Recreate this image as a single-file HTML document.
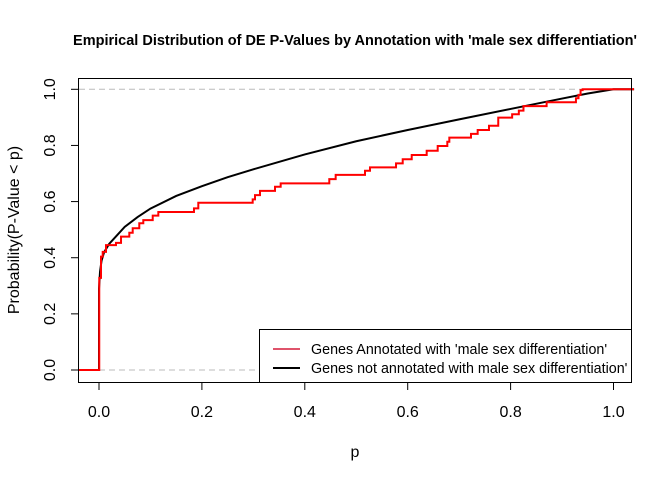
<!DOCTYPE html>
<html><head><meta charset="utf-8"><style>
body{margin:0;background:#fff;}
svg text{font-family:"Liberation Sans",Arial,sans-serif;}
</style></head><body>
<svg id="chart" width="672" height="480" viewBox="0 0 672 480" xmlns="http://www.w3.org/2000/svg">
<rect width="672" height="480" fill="#fff"/>
<text x="355" y="45" font-size="14.5" font-weight="bold" text-anchor="middle">Empirical Distribution of DE P-Values by Annotation with 'male sex differentiation'</text>
<g id="grid"></g>
<g id="series"></g>
<rect x="78.5" y="78.5" width="553" height="304" fill="none" stroke="#000" stroke-width="1"/>
<g id="axes"></g>
<text x="355" y="457" font-size="16" text-anchor="middle">p</text>
<text transform="translate(19,230) rotate(-90)" font-size="16" text-anchor="middle">Probability(P-Value &lt; p)</text>
<g>
<rect x="259.5" y="329.5" width="372" height="53" fill="#fff" stroke="#000"/>
<line x1="273" y1="349" x2="300" y2="349" stroke="#DF536B" stroke-width="2"/>
<text x="311" y="354" font-size="14.3">Genes Annotated with 'male sex differentiation'</text>
<line x1="273" y1="368" x2="300" y2="368" stroke="#000" stroke-width="2"/>
<text x="311" y="373" font-size="14.3">Genes not annotated with male sex differentiation'</text>
</g>
</svg>
<script>
const xTicks=[0,0.2,0.4,0.6,0.8,1.0];
const xTickLabels=["0.0","0.2","0.4","0.6","0.8","1.0"];
const yTicks=[0,0.2,0.4,0.6,0.8,1.0];
const yTickLabels=["0.0","0.2","0.4","0.6","0.8","1.0"];
const annotatedP=[0.0005,0.0039,0.0072,0.0136,0.033,0.0428,0.0589,0.0655,0.0783,0.0861,0.1044,0.1153,0.1846,0.193,0.2987,0.3032,0.3129,0.3421,0.3531,0.4476,0.46,0.517,0.5267,0.5773,0.5903,0.6078,0.6369,0.6583,0.677,0.6809,0.723,0.736,0.758,0.776,0.803,0.816,0.825,0.870,0.927,0.932,0.936,0.940];
const annotatedF=[0.328,0.404,0.421,0.445,0.453,0.475,0.489,0.505,0.523,0.534,0.550,0.563,0.576,0.596,0.608,0.623,0.638,0.653,0.665,0.680,0.695,0.710,0.722,0.736,0.751,0.766,0.781,0.798,0.813,0.828,0.841,0.855,0.870,0.899,0.911,0.924,0.940,0.954,0.968,0.980,0.997,1.0];
const otherP=[0,0.002,0.005,0.01,0.02,0.035,0.05,0.075,0.1,0.15,0.2,0.25,0.3,0.4,0.5,0.6,0.7,0.8,0.9,0.95,1.0];
const otherF=[0.29,0.35,0.39,0.42,0.45,0.48,0.51,0.545,0.575,0.62,0.655,0.687,0.715,0.768,0.815,0.855,0.893,0.93,0.967,0.985,1.0];
const NS="http://www.w3.org/2000/svg";
const X=p=>99+p*514.5;
const Y=f=>370-f*280.7;
function mk(tag,attrs,parent){const e=document.createElementNS(NS,tag);for(const k in attrs)e.setAttribute(k,attrs[k]);parent.appendChild(e);return e;}
const grid=document.getElementById('grid'),series=document.getElementById('series'),axes=document.getElementById('axes');
[0,1].forEach(v=>{const l=mk('line',{x1:79,x2:631,y1:Y(v),y2:Y(v),stroke:'#bbb','stroke-dasharray':'6,4'},grid);

});
let d=`M${X(-0.04)},${Y(0)} L${X(0)},${Y(0)}`;
otherP.forEach((p,i)=>{d+=` L${X(p)},${Y(otherF[i])}`;});
d+=` L${X(1.04)},${Y(1)}`;
const blk=mk('path',{d:d,fill:'none',stroke:'#000','stroke-width':2},series);


let r=`M${X(-0.04)},${Y(0)} L${X(0)},${Y(0)}`;let prev=0;
annotatedP.forEach((p,i)=>{r+=` L${X(p)},${Y(prev)} L${X(p)},${Y(annotatedF[i])}`;prev=annotatedF[i];});
r+=` L${X(1.04)},${Y(prev)}`;
const red=mk('path',{d:r,fill:'none',stroke:'#FF0000','stroke-width':2},series);


xTicks.forEach((v,i)=>{const t=mk('line',{x1:X(v),x2:X(v),y1:383,y2:390,stroke:'#000'},axes);


const tx=mk('text',{x:X(v),y:417,'font-size':16,'text-anchor':'middle'},axes);tx.textContent=xTickLabels[i];

});
yTicks.forEach((v,i)=>{const t=mk('line',{x1:71,x2:78,y1:Y(v),y2:Y(v),stroke:'#000'},axes);


const tx=mk('text',{transform:`translate(55,${Y(v)}) rotate(-90)`,'font-size':16,'text-anchor':'middle'},axes);tx.textContent=yTickLabels[i];

});
</script>
</body></html>
